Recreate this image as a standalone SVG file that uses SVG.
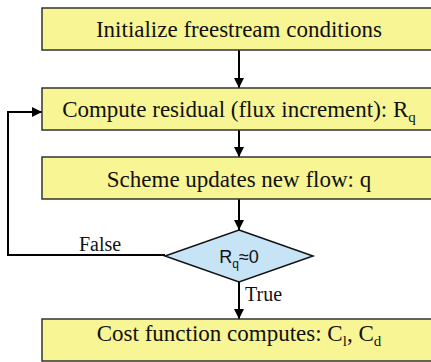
<svg xmlns="http://www.w3.org/2000/svg" width="431" height="362" viewBox="0 0 431 362">
<style>
.box{fill:#f8f595;stroke:#333;stroke-width:1.5}
.dia{fill:#c6e4f6;stroke:#111;stroke-width:1.5}
.t{font-family:"Liberation Serif","Times New Roman",serif;font-size:23px;fill:#111}
.lbl{font-family:"Liberation Serif","Times New Roman",serif;font-size:20px;fill:#111}
.s{font-family:"Liberation Sans",Arial,sans-serif;font-size:18px;fill:#111}
.c{fill:none;stroke:#000;stroke-width:2}
</style>
<defs>
<marker id="ah" markerWidth="10" markerHeight="10" refX="10" refY="5" orient="auto" markerUnits="userSpaceOnUse">
<path d="M0,0 L10,5 L0,10 Z" fill="#000"/>
</marker>
</defs>
<g id="connectors">
<line class="c" x1="239" y1="50" x2="239" y2="88" marker-end="url(#ah)"/>
<line class="c" x1="239" y1="130" x2="239" y2="157" marker-end="url(#ah)"/>
<line class="c" x1="239" y1="199" x2="239" y2="230" marker-end="url(#ah)"/>
<line class="c" x1="239" y1="282" x2="239" y2="319" marker-end="url(#ah)"/>
<polyline class="c" points="165,255 8,255 8,112 42,112" marker-end="url(#ah)"/>
<text class="lbl" x="79" y="251">False</text>
<text class="lbl" x="245" y="301">True</text>
</g>
<g id="n1">
<rect class="box" x="42" y="8" width="394" height="42"/>
<text class="t" x="239" y="37" text-anchor="middle">Initialize freestream conditions</text>
</g>
<g id="n2">
<rect class="box" x="42" y="88" width="394" height="42"/>
<text class="t" x="239" y="117" text-anchor="middle">Compute residual (flux increment): R<tspan font-size="15" dy="5">q</tspan></text>
</g>
<g id="n3">
<rect class="box" x="42" y="157" width="394" height="42"/>
<text class="t" x="239" y="187" text-anchor="middle">Scheme updates new flow: q</text>
</g>
<g id="n4">
<polygon class="dia" points="239,230 313,256 239,282 165,256"/>
<text class="s" x="239" y="263" text-anchor="middle">R<tspan font-size="12" dy="5">q</tspan><tspan dy="-5">≈0</tspan></text>
</g>
<g id="n5">
<rect class="box" x="42" y="319" width="394" height="42"/>
<text class="t" x="239" y="341" text-anchor="middle">Cost function computes: C<tspan font-size="15" dy="5">l</tspan><tspan dy="-5">, C</tspan><tspan font-size="15" dy="5">d</tspan></text>
</g>
</svg>
